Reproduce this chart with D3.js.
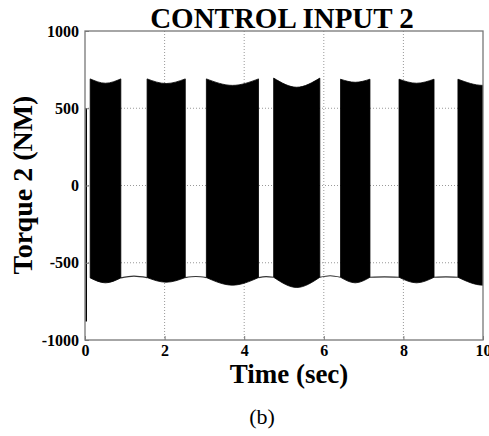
<!DOCTYPE html>
<html>
<head>
<meta charset="utf-8">
<script src="https://cdn.jsdelivr.net/npm/d3@7"></script>
<style>
  html, body { margin: 0; padding: 0; background: #fff; }
  svg { display: block; }
  text { font-family: "Liberation Serif", "Times New Roman", serif; }
</style>
</head>
<body>
<svg id="chart" width="489" height="436"></svg>
<script>
// ---- data ----
const title = "CONTROL INPUT 2";
const xLabel = "Time (sec)";
const yLabel = "Torque 2 (NM)";
const caption = "(b)";
const xTicks = [0, 2, 4, 6, 8, 10];
const yTicks = [-1000, -500, 0, 500, 1000];
const xGrid = [2, 4, 6, 8];
const yGrid = [-500, 0, 500];

// chattering bands (time, sec)
const bandStart = [0.13, 1.56, 3.05, 4.74, 6.42, 7.89, 9.37];
const bandEnd   = [0.90, 2.52, 4.36, 5.90, 7.16, 8.77, 10.63];
// upper envelope (NM)
const topEdge = [690, 690, 690, 695, 688, 688, 688];
const topMid  = [662, 660, 648, 636, 668, 662, 648];
// lower envelope (NM)
const botEdge = [-598, -596, -596, -594, -594, -594, -594];
const botMid  = [-630, -626, -645, -660, -630, -630, -645];
// lower envelope in the gaps between bands (NM)
const gapLevel = [-586, -589, -590, -584, -591, -592];
// initial transient at t≈0
const transientT = 0.03;
const transientRange = [500, -880];

// ---- layout ----
const SERIF = '"Liberation Serif", "Times New Roman", serif';
const svg = d3.select("#chart");
const L = 85, R = 483, T = 31, B = 340;
const x = d3.scaleLinear().domain([0, 10]).range([L, R]);
const y = d3.scaleLinear().domain([-1000, 1000]).range([B, T]);

svg.append("defs").append("clipPath").attr("id", "plotClip")
  .append("rect").attr("x", L).attr("y", T).attr("width", R - L).attr("height", B - T);

// grid
const grid = svg.append("g").attr("stroke", "#999").attr("stroke-width", 1)
  .attr("stroke-dasharray", "1,2");
grid.selectAll(".gx").data(xGrid).join("line")
  .attr("x1", d => x(d)).attr("x2", d => x(d)).attr("y1", T).attr("y2", B);
grid.selectAll(".gy").data(yGrid).join("line")
  .attr("x1", L).attr("x2", R).attr("y1", d => y(d)).attr("y2", d => y(d));

const plot = svg.append("g").attr("clip-path", "url(#plotClip)");

// gap lines (lower envelope between bands)
const line = d3.line().x(d => x(d.t)).y(d => y(d.v)).curve(d3.curveMonotoneX);
const gaps = gapLevel.map((g, i) => [
  { t: bandEnd[i], v: botEdge[i] },
  { t: (bandEnd[i] + bandStart[i + 1]) / 2, v: g },
  { t: bandStart[i + 1], v: botEdge[i + 1] }
]);
plot.selectAll(".gap").data(gaps).join("path")
  .attr("d", line).attr("fill", "none").attr("stroke", "#333").attr("stroke-width", 1.2);

// bands
const area = d3.area().x(d => x(d.t)).y0(d => y(d.bot)).y1(d => y(d.top)).curve(d3.curveNatural);
const bands = bandStart.map((s, i) => [
  { t: s, top: topEdge[i], bot: botEdge[i] },
  { t: (s + bandEnd[i]) / 2, top: topMid[i], bot: botMid[i] },
  { t: bandEnd[i], top: topEdge[i], bot: botEdge[i] }
]);
plot.selectAll(".band").data(bands).join("path")
  .attr("d", area).attr("fill", "#000").attr("stroke", "#000").attr("stroke-width", 0.8);

// transient
plot.append("line")
  .attr("x1", x(transientT)).attr("x2", x(transientT))
  .attr("y1", y(transientRange[0])).attr("y2", y(transientRange[1]))
  .attr("stroke", "#000").attr("stroke-width", 1.6);

// frame
svg.append("rect").attr("x", L).attr("y", T).attr("width", R - L).attr("height", B - T)
  .attr("fill", "none").attr("stroke", "#777").attr("stroke-width", 1.3);

// axes
const xAxis = svg.append("g").attr("transform", `translate(0,${B})`)
  .call(d3.axisBottom(x).tickValues(xTicks).tickSize(-4).tickPadding(5).tickFormat(d => String(d)));
const yAxis = svg.append("g").attr("transform", `translate(${L},0)`)
  .call(d3.axisLeft(y).tickValues(yTicks).tickSize(-4).tickPadding(6).tickFormat(d => String(d)));
[xAxis, yAxis].forEach(a => {
  a.attr("font-family", SERIF).attr("font-size", 16);
  a.select(".domain").remove();
  a.selectAll(".tick line").attr("stroke", "#777");
  a.selectAll(".tick text").attr("fill", "#000")
    .style("font-family", SERIF).style("font-weight", "bold").style("font-size", "16px");
});

// texts
svg.append("text").attr("x", 282).attr("y", 28).attr("text-anchor", "middle")
  .style("font-family", SERIF).style("font-weight", "bold").style("font-size", "29px").text(title);
svg.append("text").attr("x", 289).attr("y", 383).attr("text-anchor", "middle")
  .style("font-family", SERIF).style("font-weight", "bold").style("font-size", "27px").text(xLabel);
svg.append("text").attr("transform", "translate(32,185) rotate(-90)").attr("text-anchor", "middle")
  .style("font-family", SERIF).style("font-weight", "bold").style("font-size", "28px").text(yLabel);
svg.append("text").attr("x", 262).attr("y", 424).attr("text-anchor", "middle")
  .style("font-family", SERIF).style("font-size", "22px").text(caption);
</script>
</body>
</html>
